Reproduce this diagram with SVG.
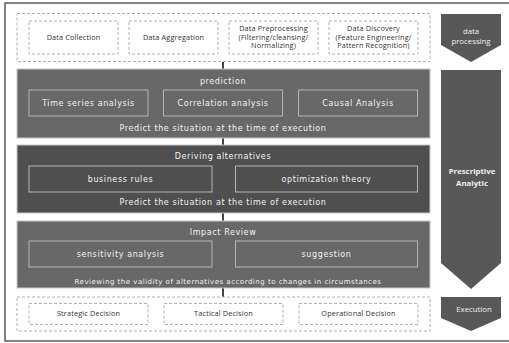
<svg xmlns="http://www.w3.org/2000/svg" width="509" height="343" viewBox="0 0 509 343">
<style>
.dash{fill:none;stroke:#b0b0b0;stroke-width:1;stroke-dasharray:3,2}
.dtxt{font-family:"Open Sans","Liberation Sans",sans-serif;font-size:7.3px;letter-spacing:0.15px;fill:#333;text-anchor:middle}
.panel{stroke:#c8c8c8;stroke-width:1}
.ibox{fill:none;stroke:#b4b4b4;stroke-width:1}
.ptxt{font-family:"DejaVu Sans","Noto Sans",sans-serif;fill:#f2f2f2;text-anchor:middle;font-size:8px;letter-spacing:0.6px}
.small{font-size:7px;letter-spacing:0.5px}
.arr{fill:#585858}
.atxt{font-family:"Open Sans","Liberation Sans",sans-serif;fill:#f0f0f0;text-anchor:middle;font-size:7.8px}
.conn{stroke:#444;stroke-width:2}
</style>
<rect x="0" y="0" width="509" height="343" fill="#ffffff"/>
<rect x="5" y="3" width="510" height="338" fill="none" stroke="#333" stroke-width="1.2"/>

<g id="connectors">
<line class="conn" x1="223" y1="62" x2="223" y2="69"/>
<line class="conn" x1="223" y1="138" x2="223" y2="146"/>
<line class="conn" x1="223" y1="213" x2="223" y2="221"/>
<line class="conn" x1="223" y1="288" x2="223" y2="297"/>
</g>

<g id="data-processing-group">
<rect class="dash" x="17" y="13.5" width="413" height="48"/>
<g id="data-collection"><rect class="dash" x="29" y="21" width="89" height="33"/><text class="dtxt" x="73.5" y="40">Data Collection</text></g>
<g id="data-aggregation"><rect class="dash" x="129" y="21" width="89" height="33"/><text class="dtxt" x="173.5" y="40">Data Aggregation</text></g>
<g id="data-preprocessing"><rect class="dash" x="229" y="21" width="89" height="33"/><text class="dtxt" x="273.5" y="31">Data Preprocessing</text><text class="dtxt" x="273.5" y="39.5">(Filtering/cleansing/</text><text class="dtxt" x="273.5" y="48">Normalizing)</text></g>
<g id="data-discovery"><rect class="dash" x="329" y="21" width="89" height="33"/><text class="dtxt" x="373.5" y="31">Data Discovery</text><text class="dtxt" x="373.5" y="39.5">(Feature Engineering/</text><text class="dtxt" x="373.5" y="48">Pattern Recognition)</text></g>
</g>

<g id="prediction">
<rect class="panel" x="17" y="69" width="413" height="69" fill="#686868"/>
<text class="ptxt" x="223" y="84">prediction</text>
<rect class="ibox" x="29" y="90" width="119" height="26"/>
<text class="ptxt" x="88.5" y="106">Time series analysis</text>
<rect class="ibox" x="163.5" y="90" width="119" height="26"/>
<text class="ptxt" x="223" y="106">Correlation analysis</text>
<rect class="ibox" x="298.5" y="90" width="119" height="26"/>
<text class="ptxt" x="358" y="106">Causal Analysis</text>
<text class="ptxt" x="223" y="131">Predict the situation at the time of execution</text>
</g>

<g id="deriving-alternatives">
<rect class="panel" x="17" y="145" width="413" height="68" fill="#4f4f4f"/>
<text class="ptxt" x="223" y="159">Deriving alternatives</text>
<rect class="ibox" x="29" y="166" width="183" height="26"/>
<text class="ptxt" x="120.5" y="182">business rules</text>
<rect class="ibox" x="235.5" y="166" width="182" height="26"/>
<text class="ptxt" x="326.5" y="182">optimization theory</text>
<text class="ptxt" x="223" y="205">Predict the situation at the time of execution</text>
</g>

<g id="impact-review">
<rect class="panel" x="17" y="221" width="413" height="67" fill="#686868"/>
<text class="ptxt" x="223" y="235">Impact Review</text>
<rect class="ibox" x="29" y="241" width="183" height="26"/>
<text class="ptxt" x="120.5" y="257">sensitivity analysis</text>
<rect class="ibox" x="235.5" y="241" width="182" height="26"/>
<text class="ptxt" x="326.5" y="257">suggestion</text>
<text class="ptxt small" x="228" y="283.5">Reviewing the validity of alternatives according to changes in circumstances</text>
</g>

<g id="execution-group">
<rect class="dash" x="17" y="297" width="413" height="34"/>
<g id="strategic"><rect class="dash" x="29" y="303.5" width="119" height="21"/><text class="dtxt" x="88.5" y="316">Strategic Decision</text></g>
<g id="tactical"><rect class="dash" x="164" y="303.5" width="119" height="21"/><text class="dtxt" x="223.5" y="316">Tactical Decision</text></g>
<g id="operational"><rect class="dash" x="299" y="303.5" width="119" height="21"/><text class="dtxt" x="358.5" y="316">Operational Decision</text></g>
</g>

<g id="arrow-data-processing">
<polygon class="arr" points="441,14 501,14 501,45 471,62 441,45"/>
<text class="atxt" x="471" y="33.5">data</text>
<text class="atxt" x="471" y="43.5">processing</text>
</g>
<g id="arrow-prescriptive">
<polygon class="arr" points="441,70 501,70 501,263 471,289 441,263"/>
<text class="atxt" x="472" y="174" font-weight="bold">Prescriptive</text>
<text class="atxt" x="472" y="185.5" font-weight="bold">Analytic</text>
</g>
<g id="arrow-execution">
<polygon class="arr" points="441,297 501,297 501,318 471,331 441,318"/>
<text class="atxt" x="474" y="312">Execution</text>
</g>
</svg>
